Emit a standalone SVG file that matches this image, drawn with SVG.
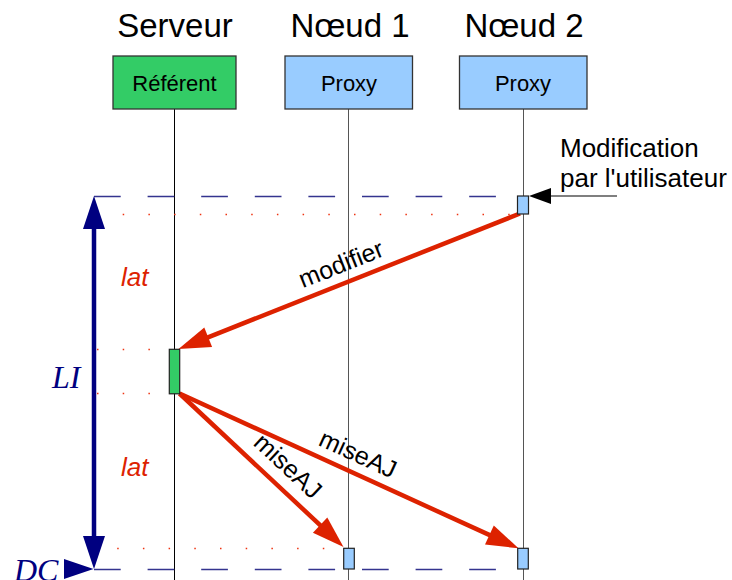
<svg xmlns="http://www.w3.org/2000/svg" width="732" height="580" viewBox="0 0 732 580">
<style>
.title{font-family:"Liberation Sans",Arial,sans-serif;font-size:33px;fill:#000;text-anchor:middle}
.box{stroke:#333;stroke-width:1.3}
.boxtxt{font-family:"Liberation Sans",Arial,sans-serif;font-size:22px;fill:#000;text-anchor:middle}
.life{stroke:#555;stroke-width:1;fill:none}
.act{stroke:#222;stroke-width:1.2}
.blue{fill:#99ccff}
.green{fill:#33cc66}
.dash{stroke:#34348f;stroke-width:1.3;stroke-dasharray:26.7 26.9;fill:none}
.dot{stroke:#ee3311;stroke-width:1.5;stroke-dasharray:1.5 24.2;fill:none}
.msg{stroke:#dd2200;stroke-width:4.5;fill:none}
.head{fill:#dd2200}
.lbl{font-family:"Liberation Sans",Arial,sans-serif;font-size:25px;fill:#000;text-anchor:middle}
.lat{font-family:"Liberation Sans",Arial,sans-serif;font-size:26px;font-style:italic;fill:#dd2200}
.navy{fill:#000080}
.ser{font-family:"Liberation Serif","Times New Roman",serif;font-size:32px;font-style:italic;fill:#000080}
.note{font-family:"Liberation Sans",Arial,sans-serif;font-size:26px;fill:#000}
</style>

<!-- lifelines -->
<g id="lifelines">
<line class="life" x1="174.5" y1="109" x2="174.5" y2="580" style="stroke:#000"/>
<line class="life" x1="348.5" y1="109" x2="348.5" y2="580"/>
<line class="life" x1="523.5" y1="109" x2="523.5" y2="580"/>
</g>

<!-- guide lines -->
<g id="guides">
<line class="dash" x1="94" y1="196.5" x2="517" y2="196.5"/>
<line class="dash" x1="94" y1="569.5" x2="517" y2="569.5"/>
<line class="dot" x1="97" y1="214.5" x2="516" y2="214.5"/>
<line class="dot" x1="97" y1="349.5" x2="169" y2="349.5"/>
<line class="dot" x1="97" y1="393.5" x2="169" y2="393.5"/>
<line class="dot" x1="91.5" y1="548.5" x2="343" y2="548.5"/>
</g>

<g id="serveur">
<text class="title" x="175" y="37">Serveur</text>
<rect class="box green" x="113" y="56" width="123" height="53"/>
<text class="boxtxt" x="174.5" y="90.5">Référent</text>
</g>
<g id="noeud1">
<text class="title" x="350" y="37">Nœud 1</text>
<rect class="box blue" x="285" y="56" width="127.5" height="53"/>
<text class="boxtxt" x="349" y="90.5">Proxy</text>
</g>
<g id="noeud2">
<text class="title" x="524" y="37">Nœud 2</text>
<rect class="box blue" x="459.5" y="56" width="127.5" height="53"/>
<text class="boxtxt" x="523" y="90.5">Proxy</text>
</g>

<!-- connectors -->
<g id="connectors">
<line x1="617" y1="196" x2="550" y2="196" stroke="#000" stroke-width="1.2"/>
<polygon points="529,196 551,188 551,204" fill="#000"/>

<line class="msg" x1="520" y1="213.5" x2="201.7" y2="339.8"/>
<polygon class="head" points="178.5,349 204.3,327.4 212.1,347"/>

<line class="msg" x1="179.5" y1="393.5" x2="325.2" y2="529.9"/>
<polygon class="head" points="343.5,547 312.9,532.8 327.3,517.5"/>

<line class="msg" x1="179.5" y1="393.5" x2="495.8" y2="537.9"/>
<polygon class="head" points="518.5,548.3 485,544.6 493.8,525.5"/>

<line x1="94" y1="226" x2="94" y2="539" stroke="#000080" stroke-width="4.5"/>
<polygon class="navy" points="94,196 83,229 105,229"/>
<polygon class="navy" points="94,569 83,536 105,536"/>
<polygon class="navy" points="93.5,569 64,559 64,579"/>
</g>

<!-- activations -->
<g id="activations">
<rect class="act blue" x="517.5" y="196" width="11" height="18"/>
<rect class="act green" x="169.3" y="349.3" width="10.4" height="44.5"/>
<rect class="act blue" x="343.7" y="548.3" width="10.6" height="20.7"/>
<rect class="act blue" x="517.7" y="548.3" width="10.6" height="20.7"/>
</g>

<!-- labels -->
<g id="labels">
<text class="note" x="560" y="157">Modification</text>
<text class="note" x="560" y="186.5">par l'utilisateur</text>
<text class="lbl" transform="translate(341,264) rotate(-21.7)" x="0" y="8.5">modifier</text>
<text class="lbl" transform="translate(288,466) rotate(43.1)" x="0" y="8.5">miseAJ</text>
<text class="lbl" transform="translate(358,454) rotate(24.6)" x="0" y="8.5">miseAJ</text>
<text class="lat" x="121" y="286">lat</text>
<text class="lat" x="121" y="476">lat</text>
<text class="ser" x="52" y="388">LI</text>
<text class="ser" x="14" y="581">DC</text>
</g>
</svg>
